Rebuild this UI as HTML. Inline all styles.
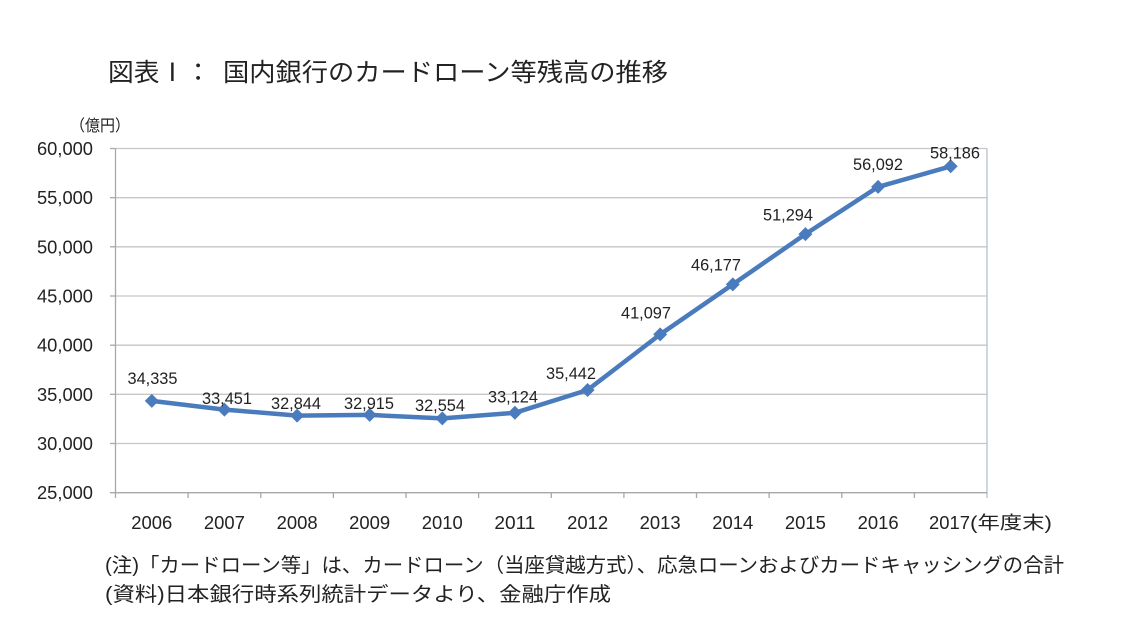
<!DOCTYPE html>
<html lang="ja">
<head>
<meta charset="utf-8">
<style>
  html, body { margin: 0; padding: 0; background: #ffffff; }
  body { width: 1134px; height: 638px; overflow: hidden; }
  svg { display: block; }
  .jp { font-family: "Liberation Sans", "Noto Sans CJK JP", sans-serif; }
  .num { font-family: "Liberation Sans", sans-serif; }
</style>
</head>
<body>
<svg width="1134" height="638" viewBox="0 0 1134 638" xmlns="http://www.w3.org/2000/svg">
  <rect x="0" y="0" width="1134" height="638" fill="#ffffff"/>

  <!-- Title -->
  <text class="jp" x="108" y="81" font-size="25" fill="#222" textLength="103" lengthAdjust="spacingAndGlyphs">図表Ⅰ：</text>
  <text class="jp" x="223" y="81" font-size="25" fill="#222" textLength="445" lengthAdjust="spacingAndGlyphs">国内銀行のカードローン等残高の推移</text>

  <!-- Unit label -->
  <text class="jp" x="70" y="131" font-size="16" fill="#222" textLength="60" lengthAdjust="spacingAndGlyphs">（億円）</text>

  <!-- Gridlines -->
  <g stroke="#c6c6c6" stroke-width="1.3">
    <line x1="115.5" y1="148.5" x2="987" y2="148.5"/>
    <line x1="115.5" y1="197.7" x2="987" y2="197.7"/>
    <line x1="115.5" y1="246.8" x2="987" y2="246.8"/>
    <line x1="115.5" y1="296.0" x2="987" y2="296.0"/>
    <line x1="115.5" y1="345.2" x2="987" y2="345.2"/>
    <line x1="115.5" y1="394.3" x2="987" y2="394.3"/>
    <line x1="115.5" y1="443.5" x2="987" y2="443.5"/>
  </g>

  <!-- Right border -->
  <line x1="987" y1="148.5" x2="987" y2="498" stroke="#b4bfcc" stroke-width="1.3"/>

  <!-- Axes -->
  <g stroke="#a8a8a8" stroke-width="1.3">
    <line x1="115.5" y1="148.5" x2="115.5" y2="492.7"/>
    <line x1="110" y1="492.7" x2="987" y2="492.7"/>
    <!-- y ticks -->
    <line x1="110" y1="148.5" x2="115.5" y2="148.5"/>
    <line x1="110" y1="197.7" x2="115.5" y2="197.7"/>
    <line x1="110" y1="246.8" x2="115.5" y2="246.8"/>
    <line x1="110" y1="296.0" x2="115.5" y2="296.0"/>
    <line x1="110" y1="345.2" x2="115.5" y2="345.2"/>
    <line x1="110" y1="394.3" x2="115.5" y2="394.3"/>
    <line x1="110" y1="443.5" x2="115.5" y2="443.5"/>
    <!-- x ticks -->
    <line x1="115.5" y1="492.7" x2="115.5" y2="498"/>
    <line x1="188.1" y1="492.7" x2="188.1" y2="498"/>
    <line x1="260.8" y1="492.7" x2="260.8" y2="498"/>
    <line x1="333.4" y1="492.7" x2="333.4" y2="498"/>
    <line x1="406.0" y1="492.7" x2="406.0" y2="498"/>
    <line x1="478.6" y1="492.7" x2="478.6" y2="498"/>
    <line x1="551.3" y1="492.7" x2="551.3" y2="498"/>
    <line x1="623.9" y1="492.7" x2="623.9" y2="498"/>
    <line x1="696.5" y1="492.7" x2="696.5" y2="498"/>
    <line x1="769.1" y1="492.7" x2="769.1" y2="498"/>
    <line x1="841.8" y1="492.7" x2="841.8" y2="498"/>
    <line x1="914.4" y1="492.7" x2="914.4" y2="498"/>
  </g>

  <!-- Y tick labels -->
  <g class="num" font-size="18" fill="#222" text-anchor="end">
    <text x="93" y="155" textLength="56" lengthAdjust="spacingAndGlyphs">60,000</text>
    <text x="93" y="204.2" textLength="56" lengthAdjust="spacingAndGlyphs">55,000</text>
    <text x="93" y="253.3" textLength="56" lengthAdjust="spacingAndGlyphs">50,000</text>
    <text x="93" y="302.5" textLength="56" lengthAdjust="spacingAndGlyphs">45,000</text>
    <text x="93" y="351.7" textLength="56" lengthAdjust="spacingAndGlyphs">40,000</text>
    <text x="93" y="400.8" textLength="56" lengthAdjust="spacingAndGlyphs">35,000</text>
    <text x="93" y="450" textLength="56" lengthAdjust="spacingAndGlyphs">30,000</text>
    <text x="93" y="499.2" textLength="56" lengthAdjust="spacingAndGlyphs">25,000</text>
  </g>

  <!-- X tick labels -->
  <g class="num" font-size="18" fill="#222" text-anchor="middle">
    <text x="151.8" y="529" textLength="41" lengthAdjust="spacingAndGlyphs">2006</text>
    <text x="224.4" y="529" textLength="41" lengthAdjust="spacingAndGlyphs">2007</text>
    <text x="297.1" y="529" textLength="41" lengthAdjust="spacingAndGlyphs">2008</text>
    <text x="369.7" y="529" textLength="41" lengthAdjust="spacingAndGlyphs">2009</text>
    <text x="442.3" y="529" textLength="41" lengthAdjust="spacingAndGlyphs">2010</text>
    <text x="514.9" y="529" textLength="41" lengthAdjust="spacingAndGlyphs">2011</text>
    <text x="587.6" y="529" textLength="41" lengthAdjust="spacingAndGlyphs">2012</text>
    <text x="660.2" y="529" textLength="41" lengthAdjust="spacingAndGlyphs">2013</text>
    <text x="732.8" y="529" textLength="41" lengthAdjust="spacingAndGlyphs">2014</text>
    <text x="805.4" y="529" textLength="41" lengthAdjust="spacingAndGlyphs">2015</text>
    <text x="878.1" y="529" textLength="41" lengthAdjust="spacingAndGlyphs">2016</text>
    <text x="949.5" y="529" textLength="41" lengthAdjust="spacingAndGlyphs">2017</text>
  </g>
  <text class="jp" x="970" y="529" font-size="18" fill="#222" textLength="82" lengthAdjust="spacingAndGlyphs">(年度末)</text>

  <!-- Series line -->
  <polyline fill="none" stroke="#4a7bbd" stroke-width="4.5" stroke-linejoin="round" stroke-linecap="round"
    points="151.8,400.9 224.4,409.6 297.1,415.6 369.7,414.9 442.3,418.4 514.9,412.8 587.6,390.0 660.2,334.4 732.8,284.4 805.4,234.1 878.1,186.9 950.7,166.3"/>

  <!-- Markers -->
  <g fill="#4a7bbd">
    <polygon points="151.8,393.9 158.8,400.9 151.8,407.9 144.8,400.9"/>
    <polygon points="224.4,402.6 231.4,409.6 224.4,416.6 217.4,409.6"/>
    <polygon points="297.1,408.6 304.1,415.6 297.1,422.6 290.1,415.6"/>
    <polygon points="369.7,407.9 376.7,414.9 369.7,421.9 362.7,414.9"/>
    <polygon points="442.3,411.4 449.3,418.4 442.3,425.4 435.3,418.4"/>
    <polygon points="514.9,405.8 521.9,412.8 514.9,419.8 507.9,412.8"/>
    <polygon points="587.6,383.0 594.6,390.0 587.6,397.0 580.6,390.0"/>
    <polygon points="660.2,327.4 667.2,334.4 660.2,341.4 653.2,334.4"/>
    <polygon points="732.8,277.4 739.8,284.4 732.8,291.4 725.8,284.4"/>
    <polygon points="805.4,227.1 812.4,234.1 805.4,241.1 798.4,234.1"/>
    <polygon points="878.1,179.9 885.1,186.9 878.1,193.9 871.1,186.9"/>
    <polygon points="950.7,159.3 957.7,166.3 950.7,173.3 943.7,166.3"/>
  </g>

  <!-- Data labels -->
  <g class="num" font-size="16.3" fill="#222" text-anchor="middle">
    <text x="152.5" y="384" textLength="50" lengthAdjust="spacingAndGlyphs">34,335</text>
    <text x="227" y="404" textLength="50" lengthAdjust="spacingAndGlyphs">33,451</text>
    <text x="296" y="409" textLength="50" lengthAdjust="spacingAndGlyphs">32,844</text>
    <text x="369" y="409" textLength="50" lengthAdjust="spacingAndGlyphs">32,915</text>
    <text x="440" y="411" textLength="50" lengthAdjust="spacingAndGlyphs">32,554</text>
    <text x="513" y="402.5" textLength="50" lengthAdjust="spacingAndGlyphs">33,124</text>
    <text x="571" y="379" textLength="50" lengthAdjust="spacingAndGlyphs">35,442</text>
    <text x="646" y="318.5" textLength="50" lengthAdjust="spacingAndGlyphs">41,097</text>
    <text x="716" y="270.5" textLength="50" lengthAdjust="spacingAndGlyphs">46,177</text>
    <text x="788" y="220.5" textLength="50" lengthAdjust="spacingAndGlyphs">51,294</text>
    <text x="878" y="170" textLength="50" lengthAdjust="spacingAndGlyphs">56,092</text>
    <text x="955" y="158.5" textLength="50" lengthAdjust="spacingAndGlyphs">58,186</text>
  </g>

  <!-- Footnotes -->
  <text class="jp" x="105" y="572" font-size="20" fill="#222" textLength="959" lengthAdjust="spacingAndGlyphs">(注)「カードローン等」は、カードローン（当座貸越方式）、応急ローンおよびカードキャッシングの合計</text>
  <text class="jp" x="105" y="601" font-size="20" fill="#222" textLength="506" lengthAdjust="spacingAndGlyphs">(資料)日本銀行時系列統計データより、金融庁作成</text>
</svg>
</body>
</html>
